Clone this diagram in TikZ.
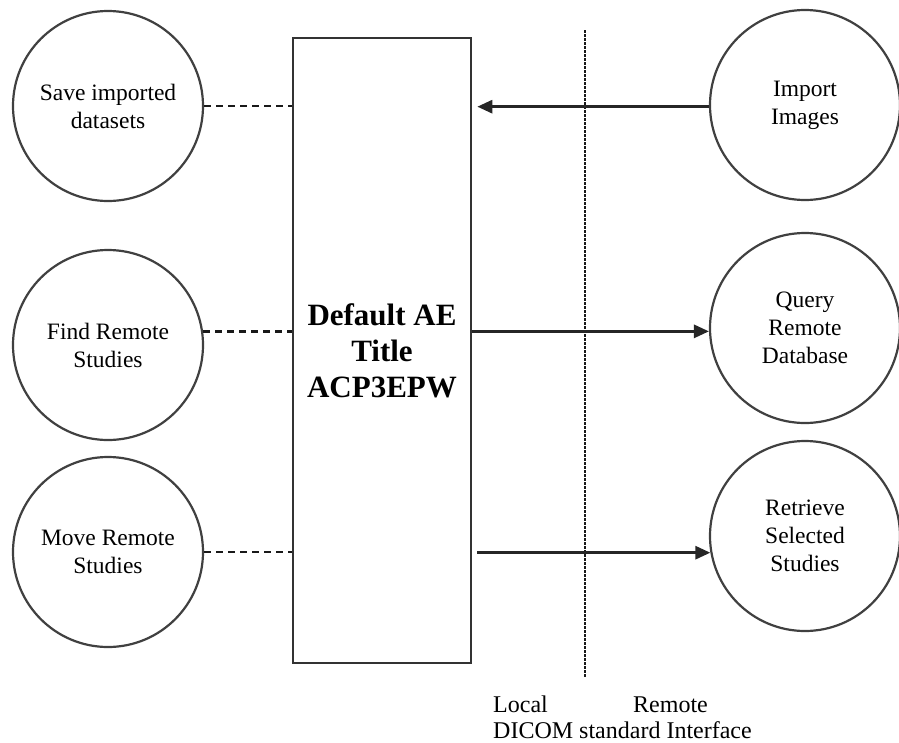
\documentclass[tikz,border=0pt]{standalone}
\usepackage{fontspec}
\setmainfont{Liberation Serif}
\usetikzlibrary{arrows.meta}
\begin{document}
\begin{tikzpicture}[x=1pt,y=-1pt,
  proc/.style={circle,draw=black!75,line width=2.2pt,minimum size=190pt,inner sep=0pt,align=center,font=\fontsize{23.5}{28}\selectfont},
  aebox/.style={draw=black!80,line width=2.6pt,minimum width=178pt,minimum height=625pt,inner sep=0pt,align=center,font=\fontsize{31}{36}\selectfont\bfseries},
  dashlink/.style={draw=black!90,line width=2.6pt,dash pattern=on 7pt off 5pt},
  flow/.style={draw=black!85,line width=2.8pt,-{Triangle[length=15pt,width=13pt]}},
  bound/.style={draw=black!90,line width=2.6pt,dash pattern=on 2.5pt off 1.5pt},
  lbl/.style={anchor=base west,inner sep=0pt,font=\fontsize{24}{26}\selectfont}]
\useasboundingbox (0,0) rectangle (899,742);
\node[aebox] (ae) at (382,350.5) {Default AE\\Title\\ACP3EPW};
\node[proc] (save) at (108,106) {Save imported\\datasets};
\node[proc] (find) at (108,345) {Find Remote\\Studies};
\node[proc] (move) at (108,552) {Move Remote\\Studies};
\node[proc] (imp) at (805,105) {Import\\Images};
\node[proc] (query) at (805,328) {Query\\Remote\\Database};
\node[proc] (ret) at (805,536) {Retrieve\\Selected\\Studies};
\coordinate (btop) at (585,30);
\coordinate (bbot) at (585,677);
\draw[bound] (btop) -- (bbot);
\draw[dashlink] (save.east) -- (save.east -| ae.west);
\draw[dashlink] (find.8.5) -- (find.8.5 -| ae.west);
\draw[dashlink] (move.east) -- (move.east -| ae.west);
\draw[flow] (imp.181) -- ([xshift=5pt]imp.181 -| ae.east);
\draw[flow] (query.182 -| ae.east) -- (query.182);
\draw[flow] ([xshift=5pt]ret.190 -| ae.east) -- (ret.190);
\node[lbl] (local) at (493,712) {Local};
\node[lbl] (remote) at (633,712) {Remote};
\node[lbl] (dicom) at (493,738) {DICOM standard Interface};
\end{tikzpicture}
\end{document}
